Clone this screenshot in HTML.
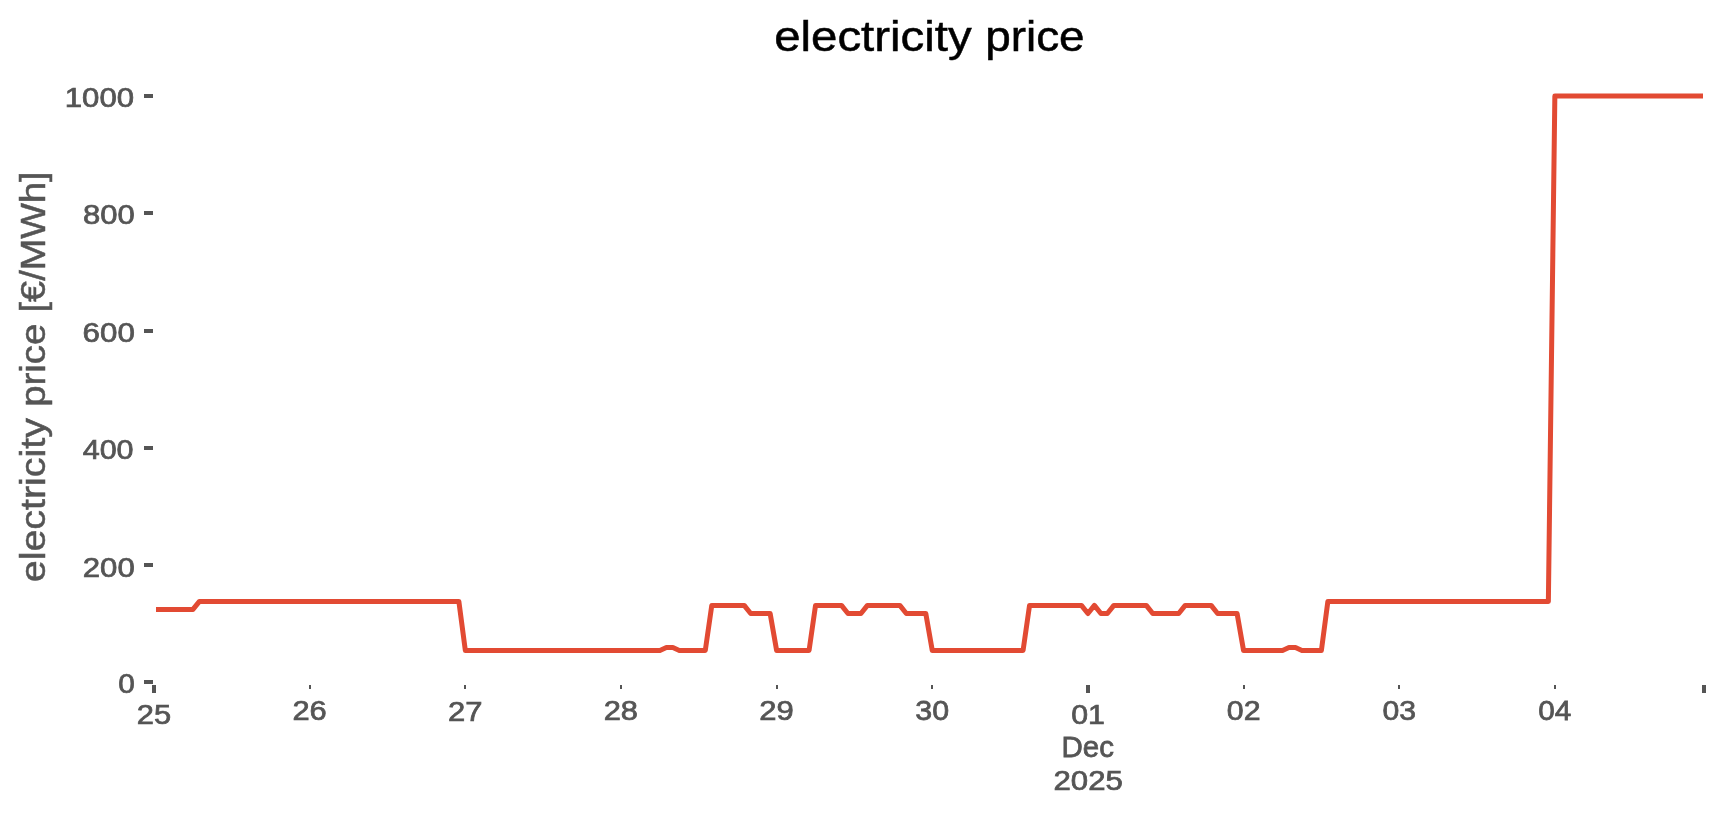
<!DOCTYPE html>
<html><head><meta charset="utf-8"><title>electricity price</title>
<style>html,body{margin:0;padding:0;background:#ffffff;width:1724px;height:815px;overflow:hidden;font-family:"Liberation Sans",sans-serif}</style>
</head><body>
<svg width='1724' height='815' viewBox='0 0 1724 815' style='display:block;will-change:transform' font-family='"Liberation Sans", sans-serif'><text transform='translate(774.15,50.75) scale(1.1029,1)' font-size='42.99' fill='#000000' stroke='#000000' stroke-width='0.5'>electricity</text>
<text transform='translate(985.17,50.75) scale(1.0670,1)' font-size='42.99' fill='#000000' stroke='#000000' stroke-width='0.5'>price</text>
<text transform='translate(44.9,582.28) rotate(-90) scale(1.1269,1)' font-size='35.0' fill='#555555' stroke='#555555' stroke-width='0.5'>electricity</text>
<text transform='translate(44.9,406.80) rotate(-90) scale(1.0971,1)' font-size='35.0' fill='#555555' stroke='#555555' stroke-width='0.5'>price</text>
<text transform='translate(44.9,312.45) rotate(-90) scale(1.0830,1)' font-size='35.0' fill='#555555' stroke='#555555' stroke-width='0.5'>[€/MWh]</text>
<rect x='144' y='680' width='9' height='4' fill='#555555'/>
<text transform='translate(118.18,693.23) scale(1.0550,1)' font-size='28.24' fill='#555555' stroke='#555555' stroke-width='0.75'>0</text>
<rect x='144' y='563' width='9' height='4' fill='#555555'/>
<text transform='translate(82.72,576.53) scale(1.1038,1)' font-size='28.24' fill='#555555' stroke='#555555' stroke-width='0.75'>200</text>
<rect x='144' y='446' width='9' height='4' fill='#555555'/>
<text transform='translate(82.66,459.43) scale(1.0810,1)' font-size='28.24' fill='#555555' stroke='#555555' stroke-width='0.75'>400</text>
<rect x='144' y='329' width='9' height='4' fill='#555555'/>
<text transform='translate(82.61,342.43) scale(1.1083,1)' font-size='28.24' fill='#555555' stroke='#555555' stroke-width='0.75'>600</text>
<rect x='144' y='211' width='9' height='4' fill='#555555'/>
<text transform='translate(83.08,224.43) scale(1.0981,1)' font-size='28.24' fill='#555555' stroke='#555555' stroke-width='0.75'>800</text>
<rect x='144' y='94' width='9' height='4' fill='#555555'/>
<text transform='translate(64.74,107.33) scale(1.1035,1)' font-size='28.24' fill='#555555' stroke='#555555' stroke-width='0.75'>1000</text>
<rect x='309' y='685' width='2' height='4' fill='#555555'/>
<rect x='464' y='685' width='2' height='4' fill='#555555'/>
<rect x='620' y='685' width='2' height='4' fill='#555555'/>
<rect x='776' y='685' width='2' height='4' fill='#555555'/>
<rect x='931' y='685' width='2' height='4' fill='#555555'/>
<rect x='1243' y='685' width='2' height='4' fill='#555555'/>
<rect x='1398' y='685' width='2' height='4' fill='#555555'/>
<rect x='1554' y='685' width='2' height='4' fill='#555555'/>
<rect x='152' y='685' width='4' height='8' fill='#555555'/>
<rect x='1086' y='685' width='4' height='8' fill='#555555'/>
<rect x='1702' y='685' width='4' height='8' fill='#555555'/>
<text transform='translate(136.78,724.43) scale(1.0919,1)' font-size='28.24' fill='#555555' stroke='#555555' stroke-width='0.75'>25</text>
<text transform='translate(292.43,720.33) scale(1.0919,1)' font-size='28.24' fill='#555555' stroke='#555555' stroke-width='0.75'>26</text>
<text transform='translate(448.07,720.61) scale(1.0972,1)' font-size='28.24' fill='#555555' stroke='#555555' stroke-width='0.75'>27</text>
<text transform='translate(603.72,720.33) scale(1.0919,1)' font-size='28.24' fill='#555555' stroke='#555555' stroke-width='0.75'>28</text>
<text transform='translate(759.35,720.33) scale(1.0972,1)' font-size='28.24' fill='#555555' stroke='#555555' stroke-width='0.75'>29</text>
<text transform='translate(915.33,720.33) scale(1.0760,1)' font-size='28.24' fill='#555555' stroke='#555555' stroke-width='0.75'>30</text>
<text transform='translate(1071.18,724.43) scale(1.0727,1)' font-size='28.24' fill='#555555' stroke='#555555' stroke-width='0.75'>01</text>
<text transform='translate(1226.83,720.33) scale(1.0727,1)' font-size='28.24' fill='#555555' stroke='#555555' stroke-width='0.75'>02</text>
<text transform='translate(1382.48,720.33) scale(1.0675,1)' font-size='28.24' fill='#555555' stroke='#555555' stroke-width='0.75'>03</text>
<text transform='translate(1538.14,720.33) scale(1.0522,1)' font-size='28.24' fill='#555555' stroke='#555555' stroke-width='0.75'>04</text>
<text transform='translate(1061.53,757.42) scale(1.0099,1)' font-size='29.20' fill='#555555' stroke='#555555' stroke-width='0.75'>Dec</text>
<text transform='translate(1053.49,789.73) scale(1.1038,1)' font-size='28.24' fill='#555555' stroke='#555555' stroke-width='0.75'>2025</text>
<defs><clipPath id='ax'><rect x='156.07' y='0' width='1546.83' height='815'/></clipPath></defs>
<polyline clip-path='url(#ax)' points='154.05,609.41 192.96,609.41 199.45,601.38 458.85,601.38 465.34,650.49 659.90,650.49 666.38,647.50 672.87,647.50 679.35,650.49 705.29,650.49 711.78,605.42 744.20,605.42 750.69,613.51 770.14,613.51 776.63,650.49 809.06,650.49 815.54,605.42 841.48,605.42 847.97,613.51 860.94,613.51 867.42,605.42 899.85,605.42 906.33,613.51 925.79,613.51 932.27,650.49 1023.07,650.49 1029.55,605.42 1081.43,605.42 1087.92,613.51 1094.40,605.42 1100.89,613.51 1107.37,613.51 1113.86,605.42 1146.29,605.42 1152.77,613.51 1178.71,613.51 1185.20,605.42 1211.14,605.42 1217.62,613.51 1237.08,613.51 1243.56,650.49 1282.47,650.49 1288.96,647.50 1295.45,647.50 1301.93,650.49 1321.39,650.49 1327.87,601.38 1548.37,601.38 1554.85,96.10 1704.01,96.10' fill='none' stroke='#E24A33' stroke-width='5' stroke-linejoin='round' stroke-linecap='square'/></svg>
</body></html>
